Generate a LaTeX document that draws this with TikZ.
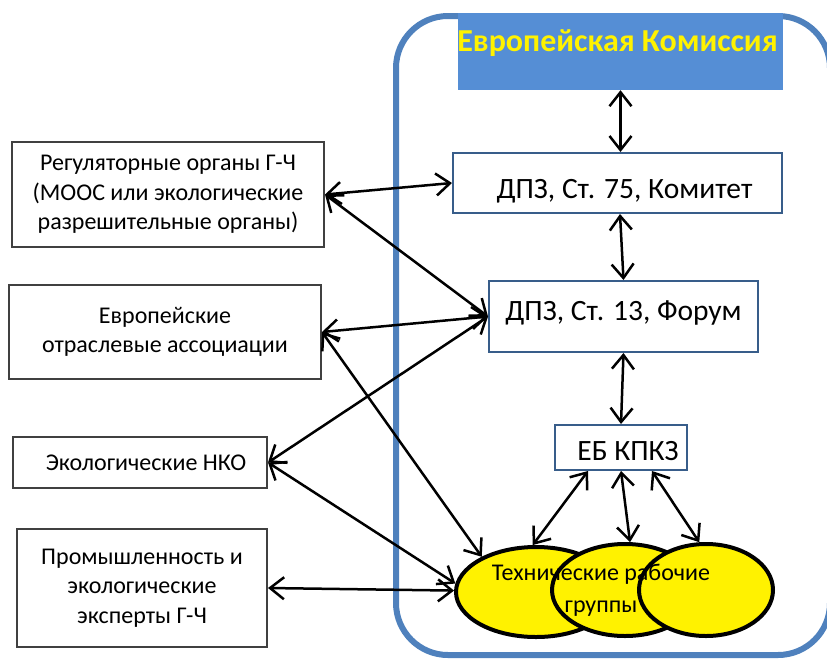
\documentclass[tikz,border=0pt]{standalone}
\usepackage{fontspec}
\setmainfont{Carlito}
\usetikzlibrary{%
    arrows.meta,
    positioning,
    shapes.geometric
}
\definecolor{frameblue}{RGB}{79,129,189}
\definecolor{ecblue}{RGB}{85,142,213}
\definecolor{boxblue}{RGB}{56,93,138}
\definecolor{boxgray}{RGB}{64,64,64}

\tikzset{
    side/.style={draw=boxgray, line width=2pt, fill=white, align=center,
                 inner sep=0pt, font=\fontsize{24}{29.5}\selectfont},
    body/.style={draw=boxblue, line width=2pt, fill=white, align=center,
                 inner sep=0pt, font=\fontsize{29.5}{34}\selectfont},
    group/.style={ellipse, draw=black, line width=4pt, fill=yellow, inner sep=0pt},
    link/.style={{Straight Barb[length=14pt,width=22pt]}-{Straight Barb[length=14pt,width=22pt]},
                 line width=2.5pt}
}

\begin{document}
\begin{tikzpicture}[x=1pt, y=-1pt]
    \useasboundingbox (0,0) rectangle (827,662);

    % frame of the EU side
    \draw[frameblue, line width=6pt, rounded corners=52pt] (396,16) rectangle (830,655);

    \node[fill=ecblue, minimum width=325pt, minimum height=77pt, inner sep=0pt] (ec) at (620.5,51.5) {};
    \node[font=\bfseries\fontsize{32}{32}\selectfont, text=yellow] (ectext) at (617.5,43) {Европейская Комиссия};

    \node[body, minimum width=329pt, minimum height=60pt] (d75) at (617.5,183) {\raisebox{-15pt}[0pt][0pt]{\hspace*{14pt}ДПЗ, Ст. 75, Комитет}};
    \node[body, minimum width=269pt, minimum height=71pt] (d13) at (623.5,316.5) {\raisebox{-3.5pt}[0pt][0pt]{ДПЗ, Ст. 13, Форум}};
    \node[body, minimum width=132pt, minimum height=45pt] (eb) at (621,447.5) {\raisebox{-12.5pt}[0pt][0pt]{\hspace*{14pt}ЕБ КПКЗ}};

    % left column
    \node[side, minimum width=312pt, minimum height=105pt] (reg) at (168,194.5) {Регуляторные органы Г-Ч\\(МООС или экологические\\разрешительные органы)};
    \node[side, minimum width=312pt, minimum height=94pt] (ind) at (165,332) {Европейские\\отраслевые ассоциации};
    \node[side, minimum width=254pt, minimum height=51pt] (ngo) at (140,462.5) {\hspace*{12pt}Экологические НКО};
    \node[side, minimum width=250pt, minimum height=118pt] (exp) at (142,588) {Промышленность и\\экологические\\эксперты Г-Ч};

    % working groups
    \node[group, minimum width=160pt, minimum height=90pt] (wg1) at (536,592) {};
    \node[group, minimum width=146pt, minimum height=92pt] (wg2) at (625,590) {};
    \node[group, minimum width=134pt, minimum height=92pt] (wg3) at (706,590) {};
    \node[font=\fontsize{24}{32}\selectfont, align=center] (wgtext) at (601,590) {Технические рабочие\\группы};

    \draw[link] (ec.south) -- (ec.south |- d75.north);
    \draw[link] ([xshift=2.5pt]d75.south) -- (d13.north);
    \draw[link] (d13.south) -- (eb.north);
    \draw[link] ([xshift=-33pt]eb.south) -- (wg1.94);
    \draw[link] (eb.south) -- (wg2.84);
    \draw[link] ([xshift=31pt]eb.south) -- (wg3.98);

    \foreach \Source/\Target in {%
        reg.east/d75.west,
        reg.east/d13.west,
        ind.east/d13.west,
        ind.east/wg1.147,
        ngo.east/d13.west,
        ngo.east/wg1.174,
        exp.east/wg1.179%
        }
        \draw[link] (\Source) -- (\Target);
\end{tikzpicture}
\end{document}
